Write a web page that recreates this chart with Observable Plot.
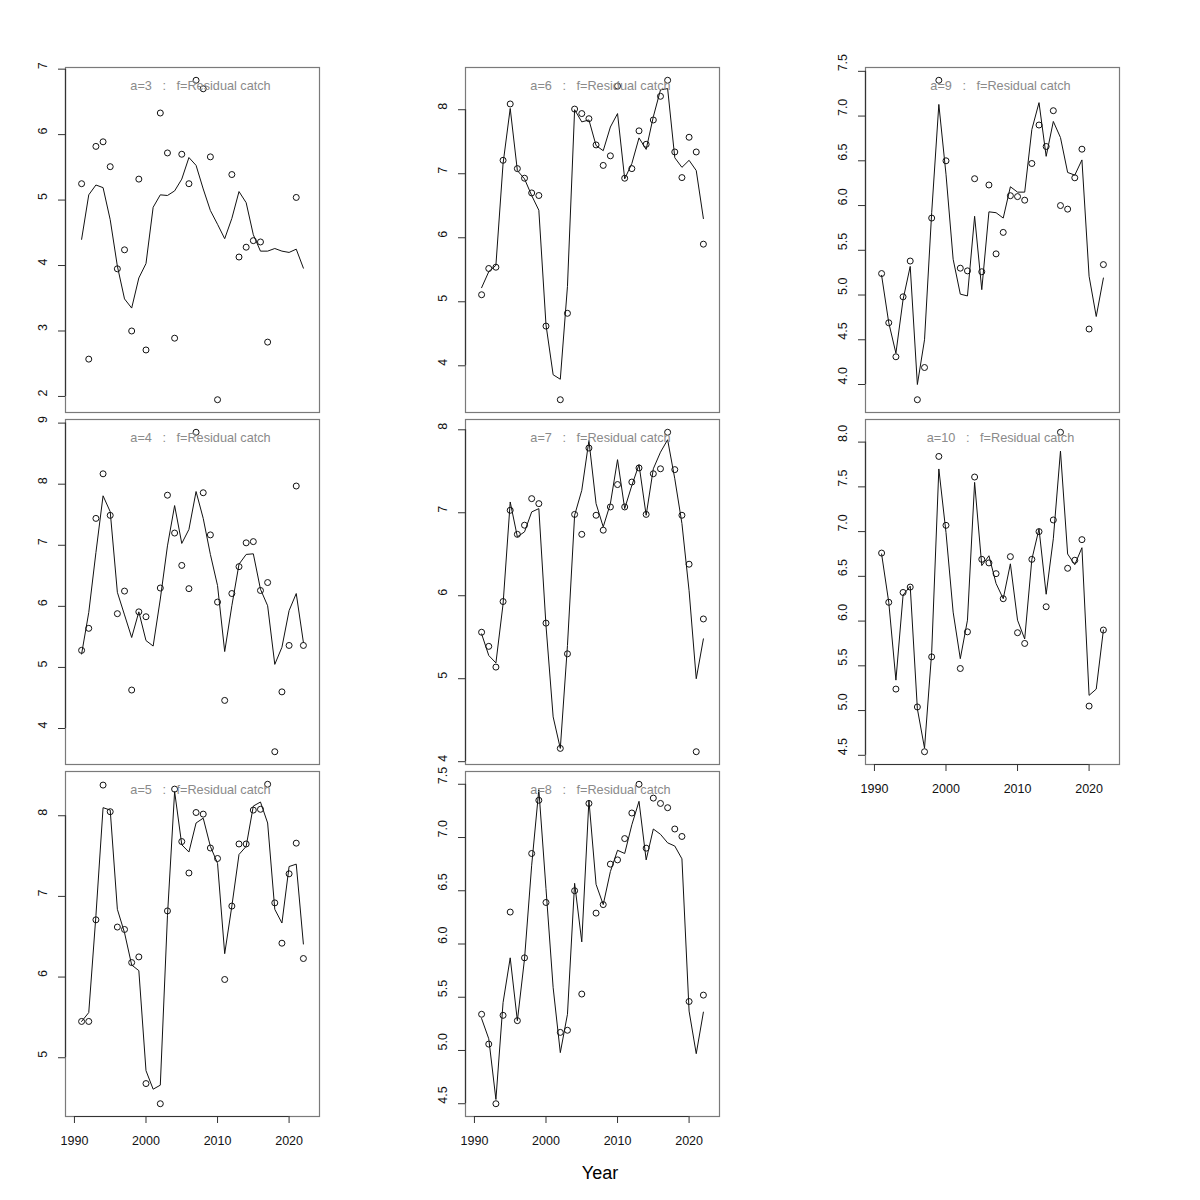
<!DOCTYPE html>
<html><head><meta charset="utf-8">
<script src="https://cdn.jsdelivr.net/npm/d3@7"></script>
<script src="https://cdn.jsdelivr.net/npm/@observablehq/plot@0.6"></script>
<style>
body{margin:0;background:#fff;}
#wrap{position:relative;width:1200px;height:1200px;font-family:"Liberation Sans",Arial,sans-serif;background:#fff;}
.panel{position:absolute;}
.panel svg text{white-space:pre;}
#xlab{position:absolute;left:0;width:1200px;top:1163px;text-align:center;font-size:18px;line-height:20px;color:#000;}
</style></head><body><div id="wrap"></div>
<script>
const years = [1991,1992,1993,1994,1995,1996,1997,1998,1999,2000,2001,2002,2003,2004,2005,2006,2007,2008,2009,2010,2011,2012,2013,2014,2015,2016,2017,2018,2019,2020,2021,2022];
const xTicks = [1990,2000,2010,2020];
const xLabel = "Year";
const seriesLabel = "f=Residual catch";

const obs3 = [5.25,2.57,5.82,5.89,5.51,3.95,4.24,3.00,5.32,2.71,null,6.33,5.72,2.89,5.70,5.25,6.83,6.70,5.66,1.95,null,5.39,4.13,4.28,4.38,4.36,2.83,null,null,null,5.04,null];
const fit3 = [4.40,5.08,5.23,5.19,4.70,3.99,3.49,3.35,3.81,4.03,4.89,5.08,5.07,5.14,5.32,5.65,5.53,5.17,4.84,4.63,4.41,4.72,5.13,4.96,4.47,4.22,4.22,4.26,4.22,4.20,4.25,3.96];
const obs4 = [5.28,5.64,7.44,8.17,7.49,5.88,6.25,4.63,5.91,5.83,null,6.30,7.82,7.20,6.67,6.29,8.85,7.86,7.17,6.07,4.46,6.21,6.65,7.04,7.06,6.26,6.39,3.62,4.60,5.36,7.97,5.36];
const fit4 = [5.22,5.90,6.88,7.81,7.55,6.23,5.86,5.49,5.91,5.44,5.35,6.12,6.99,7.65,7.03,7.26,7.88,7.44,6.85,6.34,5.26,6.01,6.69,6.85,6.86,6.28,6.01,5.05,5.33,5.93,6.21,5.41];
const obs5 = [5.45,5.45,6.71,8.38,8.05,6.62,6.59,6.18,6.25,4.68,null,4.43,6.82,8.33,7.68,7.29,8.04,8.02,7.60,7.47,5.97,6.88,7.65,7.65,8.07,8.08,8.39,6.92,6.42,7.28,7.66,6.23];
const fit5 = [5.45,5.56,6.76,8.10,8.07,6.84,6.55,6.15,6.08,4.84,4.61,4.66,6.76,8.30,7.64,7.55,7.91,7.97,7.62,7.41,6.29,6.88,7.52,7.62,8.12,8.17,7.91,6.84,6.67,7.37,7.40,6.41];
const obs6 = [5.11,5.52,5.54,7.21,8.09,7.08,6.93,6.70,6.66,4.62,null,3.47,4.82,8.01,7.94,7.86,7.45,7.13,7.28,8.37,6.93,7.08,7.67,7.46,7.84,8.21,8.46,7.34,6.94,7.57,7.34,5.90];
const fit6 = [5.22,5.47,5.57,7.16,8.02,7.05,6.92,6.66,6.43,4.64,3.86,3.79,5.24,8.00,7.81,7.84,7.44,7.36,7.73,7.94,6.92,7.16,7.56,7.38,7.89,8.31,8.33,7.25,7.10,7.21,7.05,6.30];
const obs7 = [5.56,5.39,5.14,5.93,7.03,6.74,6.85,7.17,7.11,5.67,null,4.16,5.30,6.98,6.74,7.78,6.97,6.79,7.07,7.34,7.07,7.37,7.54,6.98,7.47,7.53,7.97,7.52,6.97,6.38,4.12,5.72];
const fit7 = [5.54,5.28,5.19,5.90,7.13,6.71,6.77,7.01,7.05,5.64,4.54,4.16,5.40,6.97,7.27,7.87,7.11,6.83,7.11,7.64,7.05,7.33,7.58,6.97,7.53,7.73,7.88,7.41,6.87,6.06,5.00,5.48];
const obs8 = [5.34,5.06,4.50,5.33,6.30,5.28,5.87,6.85,7.35,6.39,null,5.17,5.19,6.50,5.53,7.32,6.29,6.37,6.75,6.79,6.99,7.23,7.50,6.90,7.37,7.32,7.28,7.08,7.01,5.46,null,5.52];
const fit8 = [5.30,5.11,4.54,5.45,5.87,5.28,5.86,6.74,7.45,6.52,5.59,4.98,5.34,6.57,6.02,7.35,6.56,6.37,6.68,6.88,6.85,7.12,7.34,6.79,7.08,7.03,6.95,6.92,6.80,5.37,4.97,5.36];
const obs9 = [5.24,4.69,4.31,4.98,5.38,3.83,4.19,5.86,7.40,6.50,null,5.30,5.27,6.30,5.26,6.23,5.46,5.70,6.11,6.10,6.06,6.47,6.90,6.66,7.06,6.00,5.96,6.31,6.63,4.62,null,5.34];
const fit9 = [5.22,4.69,4.35,4.95,5.32,4.00,4.50,5.92,7.13,6.35,5.40,5.01,4.99,5.88,5.06,5.93,5.92,5.86,6.21,6.15,6.15,6.85,7.15,6.55,6.94,6.76,6.37,6.34,6.51,5.21,4.76,5.19];
const obs10 = [6.76,6.21,5.24,6.32,6.38,5.04,4.54,5.60,7.84,7.07,null,5.47,5.88,7.61,6.69,6.65,6.53,6.25,6.72,5.87,5.75,6.69,7.00,6.16,7.13,8.11,6.59,6.68,6.91,5.05,null,5.90];
const fit10 = [6.75,6.21,5.34,6.29,6.39,5.02,4.58,5.65,7.70,6.99,6.10,5.58,6.01,7.55,6.62,6.73,6.42,6.25,6.64,6.01,5.80,6.69,7.03,6.30,6.92,7.90,6.75,6.63,6.82,5.17,5.24,5.90];

const yTicks3 = [2,3,4,5,6,7];
const yTicks4 = [4,5,6,7,8,9];
const yTicks5 = [5,6,7,8];
const yTicks6 = [4,5,6,7,8];
const yTicks7 = [4,5,6,7,8];
const yTicks8 = [4.5,5.0,5.5,6.0,6.5,7.0,7.5];
const yTicks9 = [4.0,4.5,5.0,5.5,6.0,6.5,7.0,7.5];
const yTicks10 = [4.5,5.0,5.5,6.0,6.5,7.0,7.5,8.0];

const panels = [
  {age:3, col:0, row:0, obs:obs3, fit:fit3, ticks:yTicks3, dec:0, showX:false},
  {age:4, col:0, row:1, obs:obs4, fit:fit4, ticks:yTicks4, dec:0, showX:false},
  {age:5, col:0, row:2, obs:obs5, fit:fit5, ticks:yTicks5, dec:0, showX:true},
  {age:6, col:1, row:0, obs:obs6, fit:fit6, ticks:yTicks6, dec:0, showX:false},
  {age:7, col:1, row:1, obs:obs7, fit:fit7, ticks:yTicks7, dec:0, showX:false},
  {age:8, col:1, row:2, obs:obs8, fit:fit8, ticks:yTicks8, dec:1, showX:true},
  {age:9, col:2, row:0, obs:obs9, fit:fit9, ticks:yTicks9, dec:1, showX:false},
  {age:10, col:2, row:1, obs:obs10, fit:fit10, ticks:yTicks10, dec:1, showX:true}
];

const colLeft = [65, 465, 865];
const rowTop = [67, 419, 771];
const PW = 254, PH = 345;
const ML = 60, MT = 10, MR = 10;
const xDomain = [1988.75, 2024.25];

const wrap = document.getElementById("wrap");

for (const p of panels) {
  const rows = years.map((y, i) => ({year: y, obs: p.obs[i], fit: p.fit[i]}));
  const vals = p.obs.concat(p.fit).filter(v => v != null);
  const lo = d3.min(vals), hi = d3.max(vals), pad = (hi - lo) * 0.04;
  const yDomain = [lo - pad, hi + pad];
  const mb = p.showX ? 50 : 10;
  const fmt = d => p.dec ? d.toFixed(p.dec) : String(d);
  const t = p.ticks;
  const marks = [
    Plot.frame({stroke: "#7a7a7a", strokeWidth: 1.2}),
    Plot.ruleX([{x: xDomain[0], y1: t[0], y2: t[t.length - 1]}], {x: "x", y1: "y1", y2: "y2", stroke: "#333", strokeWidth: 1.2}),
    Plot.axisY({ticks: t, tickSize: 7, tickFormat: () => "", label: null, stroke: "#333"}),
    Plot.text(t, {y: d => d, text: fmt, frameAnchor: "left", dx: -23, rotate: -90, fontSize: 12.5, fill: "#111"}),
    Plot.line(rows, {x: "year", y: "fit", stroke: "#111", strokeWidth: 1}),
    Plot.dot(rows.filter(d => d.obs != null), {x: "year", y: "obs", r: 3, stroke: "#111", fill: "none", strokeWidth: 1}),
    Plot.text([`a=${p.age}   :   ${seriesLabel}`], {frameAnchor: "top", lineAnchor: "top", dy: 13, dx: 8, fill: "#8a8a8a", fontSize: 12.7})
  ];
  if (p.showX) {
    marks.push(
      Plot.ruleY([{y: yDomain[0], x1: xTicks[0], x2: xTicks[xTicks.length - 1]}], {y: "y", x1: "x1", x2: "x2", stroke: "#333", strokeWidth: 1.2}),
      Plot.axisX({ticks: xTicks, tickSize: 7, tickPadding: 13, tickFormat: d => String(d), label: null, fontSize: 12.5, stroke: "#333", fill: "#111"})
    );
  }
  const chart = Plot.plot({
    width: ML + PW + MR,
    height: MT + PH + mb,
    marginLeft: ML, marginTop: MT, marginRight: MR, marginBottom: mb,
    x: p.showX ? {domain: xDomain} : {domain: xDomain, axis: null},
    y: {domain: yDomain},
    style: {fontFamily: "Liberation Sans, Arial, sans-serif", fontSize: "12px", background: "none", overflow: "visible"},
    marks
  });
  const div = document.createElement("div");
  div.className = "panel";
  div.style.left = (colLeft[p.col] - ML) + "px";
  div.style.top = (rowTop[p.row] - MT) + "px";
  div.appendChild(chart);
  wrap.appendChild(div);
}

const xl = document.createElement("div");
xl.id = "xlab";
xl.textContent = xLabel;
wrap.appendChild(xl);
</script>
</body></html>
